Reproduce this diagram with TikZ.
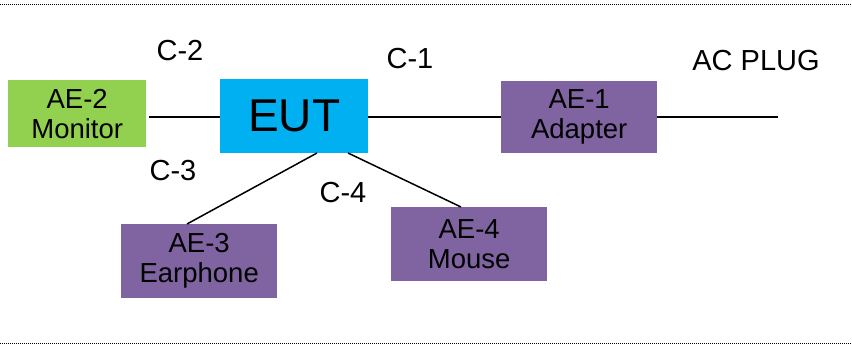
\documentclass[tikz,border=0pt]{standalone}
\usepackage{fontspec}
\setmainfont{Liberation Sans}
\definecolor{aegreen}{HTML}{92D050}
\definecolor{eutblue}{HTML}{00B0F0}
\definecolor{aepurple}{HTML}{8064A2}
\begin{document}
\begin{tikzpicture}[x=1pt,y=-1pt,
  box/.style={rectangle,inner sep=0pt,anchor=north west,align=center,font=\fontsize{27.5}{30}\selectfont},
  lbl/.style={font=\fontsize{29}{32}\selectfont,inner sep=0pt},
  wire/.style={line width=1.5pt},
  border/.style={line width=0.8pt,dash pattern=on 1pt off 1pt}]
\useasboundingbox (0,0) rectangle (852,347);
\draw[border] (0,4) -- (852,4);
\draw[border] (0,343) -- (852,343);
\node[box,fill=aegreen,minimum width=138pt,minimum height=67pt] (ae2) at (8,80) {AE-2\\Monitor};
\node[box,fill=eutblue,minimum width=148pt,minimum height=74pt,font=\fontsize{46}{50}\selectfont] (eut) at (220,79) {EUT};
\node[box,fill=aepurple,minimum width=156pt,minimum height=72pt] (ae1) at (501,81) {AE-1\\Adapter};
\node[box,fill=aepurple,minimum width=156pt,minimum height=74pt] (ae3) at (121,224) {AE-3\\Earphone};
\node[box,fill=aepurple,minimum width=156pt,minimum height=74pt] (ae4) at (391,207) {AE-4\\Mouse};
\coordinate (plug) at (778,117);
\draw[wire] (149,117) -- (eut.west |- 0,117);
\draw[wire] (eut.east |- 0,117) -- (ae1.west |- 0,117);
\draw[wire] (ae1.east |- 0,117) -- (plug);
\draw[wire] (317,153) -- (187,224);
\draw[wire] (348,153) -- (461,207);
\node[lbl] (c2) at (180,51) {C-2};
\node[lbl] (c1) at (410,59) {C-1};
\node[lbl] (acplug) at (756,61) {AC PLUG};
\node[lbl] (c3) at (173,171) {C-3};
\node[lbl] (c4) at (343,193) {C-4};
\end{tikzpicture}
\end{document}
